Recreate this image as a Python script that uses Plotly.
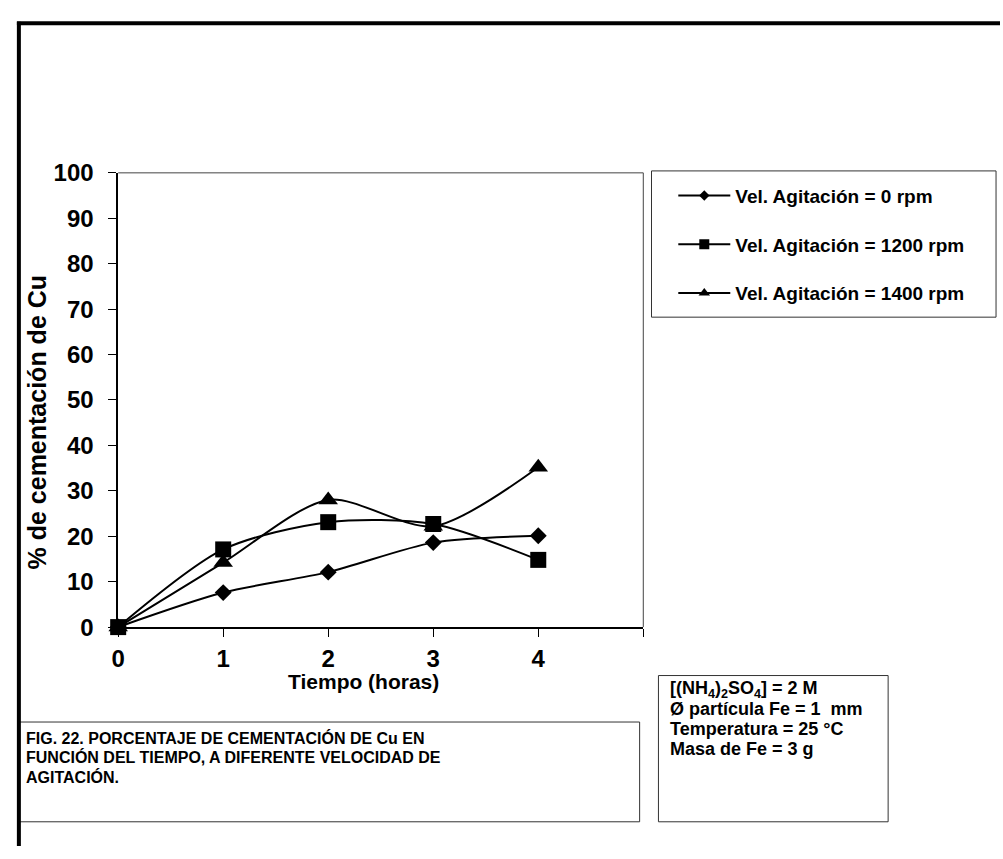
import plotly.graph_objects as go

W, H = 1003, 859

# ---- data ----
tiempo = [0, 1, 2, 3, 4]
vel_0 = [0, 7.6, 12.1, 18.6, 20.1]
vel_1200 = [0, 17.1, 23.1, 22.7, 14.8]
vel_1400 = [0, 14.2, 28.0, 22.2, 35.2]
series_names = [
    "Vel. Agitación = 0 rpm",
    "Vel. Agitación = 1200 rpm",
    "Vel. Agitación = 1400 rpm",
]
x_tick_vals = [0, 1, 2, 3, 4, 5]
x_tick_text = ["0", "1", "2", "3", "4", " "]
y_tick_vals = [0, 10, 20, 30, 40, 50, 60, 70, 80, 90, 100]

caption_lines = [
    "FIG. 22. PORCENTAJE DE CEMENTACIÓN DE Cu EN",
    "FUNCIÓN DEL TIEMPO, A DIFERENTE VELOCIDAD DE",
    "AGITACIÓN.",
]
condition_lines = [
    "[(NH<sub>4</sub>)<sub>2</sub>SO<sub>4</sub>] = 2 M",
    "Ø partícula Fe = 1  mm",
    "Temperatura = 25 °C",
    "Masa de Fe = 3 g",
]

FONT = "Liberation Sans, Arial, sans-serif"


def px(x):
    return x / W


def py(y):
    return 1 - y / H


fig = go.Figure()
symbols = ["diamond", "square", "triangle-up"]
sizes = [13, 16, 17]
legend_sizes = [8, 10, 10]
for name, vals, sym, sz, lsz, grp in zip(series_names,
                                         [vel_0, vel_1200, vel_1400],
                                         symbols, sizes, legend_sizes,
                                         ["a", "b", "c"]):
    fig.add_trace(go.Scatter(
        x=tiempo, y=vals, name=name, mode="lines+markers",
        line=dict(color="black", width=2, shape="spline", smoothing=0.8),
        marker=dict(symbol=sym, size=sz, color="black"),
        legendgroup=grp, showlegend=False, cliponaxis=False,
    ))
    # legend entry with the smaller symbol used in the reference legend
    fig.add_trace(go.Scatter(
        x=[None], y=[None], name=name, mode="lines+markers",
        line=dict(color="black", width=2),
        marker=dict(symbol=sym, size=lsz, color="black"),
        legendgroup=grp, showlegend=True, hoverinfo="skip",
    ))

x0, x1 = 112.3, 642.7
y0, y1 = 633, 164

fig.update_layout(
    width=W, height=H,
    margin=dict(l=0, r=0, t=0, b=0),
    paper_bgcolor="white", plot_bgcolor="white",
    font=dict(family=FONT, color="black"),
    showlegend=True,
    legend=dict(
        x=px(673), y=py(168), xanchor="left", yanchor="top",
        bgcolor="rgba(0,0,0,0)", borderwidth=0,
        font=dict(size=19, family=FONT, weight="bold"),
        itemwidth=52, tracegroupgap=21,
    ),
    xaxis=dict(
        domain=[px(x0), px(x1)], range=[0, 5],
        tickvals=x_tick_vals, ticktext=x_tick_text,
        ticks="outside", ticklen=8, tickcolor="black", tickwidth=1,
        showline=True, linecolor="black", linewidth=1.5,
        showgrid=False, zeroline=False,
        tickfont=dict(size=24, family=FONT, weight="bold"),
        ticklabelstandoff=1,
    ),
    yaxis=dict(
        domain=[py(y0), py(y1)], range=[0, 100],
        tickvals=y_tick_vals,
        ticks="outside", ticklen=8, tickcolor="black", tickwidth=1,
        showline=True, linecolor="black", linewidth=1.5,
        showgrid=False, zeroline=False,
        tickfont=dict(size=24, family=FONT, weight="bold"),
        ticklabelstandoff=10,
    ),
)

shapes = [
    # plot area border (top & right)
    dict(type="line", xref="paper", yref="paper", x0=px(x0), x1=px(x1),
         y0=py(y1), y1=py(y1), line=dict(color="#444", width=1)),
    dict(type="line", xref="paper", yref="paper", x0=px(x1), x1=px(x1),
         y0=py(y1), y1=py(y0), line=dict(color="#444", width=1)),
    # legend box
    dict(type="rect", xref="paper", yref="paper", x0=px(651), x1=px(999),
         y0=py(313), y1=py(162), line=dict(color="#333", width=1)),
    # caption box
    dict(type="rect", xref="paper", yref="paper", x0=px(11), x1=px(639),
         y0=py(834), y1=py(731), line=dict(color="#333", width=1)),
    # conditions box
    dict(type="rect", xref="paper", yref="paper", x0=px(658), x1=px(890),
         y0=py(834), y1=py(683), line=dict(color="#333", width=1)),
    # outer frame (top & left)
    dict(type="line", xref="paper", yref="paper", x0=px(10), x1=1,
         y0=py(9.5), y1=py(9.5), line=dict(color="black", width=4)),
    dict(type="line", xref="paper", yref="paper", x0=px(12), x1=px(12),
         y0=py(8), y1=0, line=dict(color="black", width=4)),
]
fig.update_layout(shapes=shapes)

annotations = [
    dict(text="Tiempo (horas)", x=px(360), y=py(689), xref="paper", yref="paper",
         showarrow=False, xanchor="center", yanchor="middle",
         font=dict(size=21, family=FONT, weight="bold")),
    dict(text="% de cementación de Cu", x=px(30), y=py(421), xref="paper",
         yref="paper", showarrow=False, textangle=-90,
         xanchor="center", yanchor="middle",
         font=dict(size=25, family=FONT, weight="bold")),
]
for i, line in enumerate(caption_lines):
    annotations.append(dict(
        text=line, x=px(17), y=py(747 + 20.5 * i), xref="paper", yref="paper",
        showarrow=False, xanchor="left", yanchor="middle", align="left",
        font=dict(size=16, family=FONT, weight="bold")))
for i, line in enumerate(condition_lines):
    annotations.append(dict(
        text=line, x=px(668), y=py(697 + 20.5 * i), xref="paper", yref="paper",
        showarrow=False, xanchor="left", yanchor="middle", align="left",
        font=dict(size=18, family=FONT, weight="bold")))
fig.update_layout(annotations=annotations)

fig.write_html("out.html", config={"displayModeBar": False},
               post_script="document.body.style.margin='0px';")
